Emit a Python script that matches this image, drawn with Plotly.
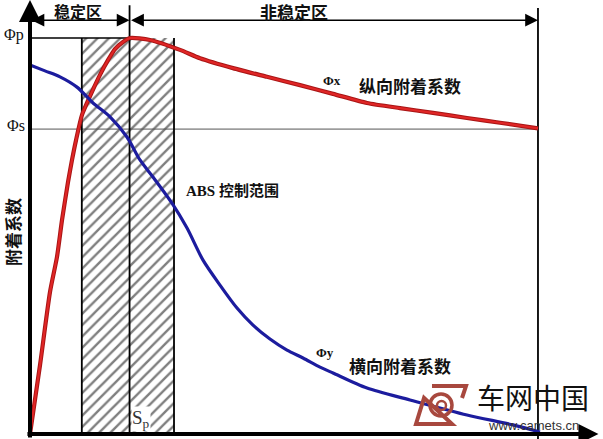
import plotly.graph_objects as go

# ---------------- data (slip in %, adhesion coefficient normalised to phi_p = 1) -------------
slip_red = [0, 1.97, 3.94, 5.31, 6.30, 7.48, 8.27, 9.06, 10.24, 12.20, 13.78, 15.35, 16.73,
            18.31, 19.69, 23.62, 29.53, 33.46, 39.96, 46.65, 53.15, 59.65, 66.34, 72.83,
            79.33, 86.02, 92.52, 100]
mu_red = [0, 0.174, 0.359, 0.447, 0.540, 0.636, 0.692, 0.742, 0.806, 0.864, 0.907, 0.944, 0.972,
          0.990, 1.0, 0.995, 0.970, 0.949, 0.924, 0.902, 0.881, 0.859, 0.836, 0.823,
          0.811, 0.798, 0.786, 0.772]

slip_blue = [0, 2.95, 5.91, 9.25, 12.40, 15.75, 19.09, 21.65, 24.21, 27.95, 30.91, 34.06,
             37.40, 40.75, 43.90, 47.24, 50.59, 53.74, 57.09, 59.65, 66.34, 74.80, 86.02,
             95.08, 100.4]
mu_blue = [0.932, 0.917, 0.902, 0.876, 0.836, 0.801, 0.750, 0.692, 0.649, 0.583, 0.520, 0.439,
           0.376, 0.318, 0.275, 0.240, 0.212, 0.192, 0.169, 0.154, 0.116, 0.086, 0.048,
           0.023, 0.005]

phi_p = 1.0
phi_s = 0.77
s_band_left = 10.2
s_p = 19.6
s_band_right = 28.35
s_end = 100

labels = {
    "stable": "稳定区",
    "unstable": "非稳定区",
    "long": "纵向附着系数",
    "lat": "横向附着系数",
    "abs": "ABS 控制范围",
    "ytitle": "附着系数",
}

X0, X1 = -5.906, 112.8
Y0, Y1 = -0.0126, 1.096
W, H = 603, 439

CJK = "Noto Sans CJK SC"
SERIF = "Liberation Serif"

fig = go.Figure()

# hatched ABS band
fig.add_trace(go.Scatter(
    x=[s_band_left, s_band_right, s_band_right, s_band_left, s_band_left],
    y=[0, 0, phi_p, phi_p, 0],
    mode="lines", fill="toself", line=dict(width=0, color="black"),
    fillcolor="white",
    fillpattern=dict(shape="/", fgcolor="#000000", bgcolor="white", size=8, solidity=0.3),
    hoverinfo="skip", showlegend=False))

def seg(xs, ys, color="black", width=1.5):
    fig.add_trace(go.Scatter(x=xs, y=ys, mode="lines", line=dict(color=color, width=width),
                             hoverinfo="skip", showlegend=False))

# reference lines
seg([0, s_end], [phi_s, phi_s], color="#555555", width=1)
seg([0, s_p], [phi_p, phi_p], width=1.5)
seg([s_band_left, s_band_left], [0, phi_p], width=1.8)
seg([s_band_right, s_band_right], [0, phi_p], width=1.8)
seg([s_p, s_p], [0, 1.083], width=1.8)
seg([s_end, s_end], [Y0, 1.076], width=1.8)

# curves
fig.add_trace(go.Scatter(x=slip_red, y=mu_red, mode="lines", line=dict(color="#a81515", width=4.2, shape="spline", smoothing=0.6),
                         hoverinfo="skip", showlegend=False))
fig.add_trace(go.Scatter(x=slip_red, y=mu_red, mode="lines", line=dict(color="#e02626", width=2.2, shape="spline", smoothing=0.6),
                         hoverinfo="skip", showlegend=False))
fig.add_trace(go.Scatter(x=slip_blue, y=mu_blue, mode="lines", line=dict(color="#1c1c9e", width=3.2, shape="spline", smoothing=0.8),
                         hoverinfo="skip", showlegend=False))

ann = []

def arrow(x, y, ax, ay, width, size=1.0, side="end", head=2):
    ann.append(dict(x=x, y=y, ax=ax, ay=ay, xref="x", yref="y", axref="x", ayref="y",
                    text="", showarrow=True, arrowhead=head, arrowsize=size, arrowwidth=width,
                    arrowcolor="black", arrowside=side, standoff=0, startstandoff=0))

# axes with arrows
arrow(0, 1.096, 0, Y0, 4, size=1.1)
arrow(111.9, 0, -0.8, 0, 4, size=1.0)
# dimension arrows
arrow(s_p, 1.045, 0, 1.045, 1.6, size=1.6, side="end+start")
arrow(s_end, 1.045, s_p, 1.045, 1.6, size=1.6, side="end+start")

def txt(x, y, t, size, family=CJK, color="#111111", weight="bold", angle=0, bg=None, xref="x", yref="y"):
    d = dict(x=x, y=y, xref=xref, yref=yref, text=t, showarrow=False, textangle=angle,
             font=dict(family=family, size=size, color=color, weight=weight),
             xanchor="center", yanchor="middle", borderpad=0)
    if bg:
        d["bgcolor"] = bg
    ann.append(d)

txt(9.45, 1.068, labels["stable"], 16)
txt(51.97, 1.068, labels["unstable"], 17)
txt(-3.15, 1.008, "Φp", 16, family=SERIF, weight="normal")
txt(-2.76, 0.778, "Φs", 16, family=SERIF, weight="normal")
txt(59.45, 0.893, "Φx", 13, family=SERIF)
txt(74.8, 0.881, labels["long"], 17)
txt(39.8, 0.616, labels["abs"], 15, family=SERIF + ", " + CJK)
txt(58.1, 0.207, "Φy", 13, family=SERIF)
txt(72.9, 0.174, labels["lat"], 17)
txt(-3.54, 0.510, labels["ytitle"], 17, angle=-90)
txt(21.85, 0.038, "S<sub>p</sub>", 19, family=SERIF, weight="normal", color="#333333", bg="white")

# watermark
txt(533 / W, 1 - 397 / H, "车网中国", 28, weight="normal", color="#111111", xref="paper", yref="paper")
txt(533 / W, 1 - 425 / H, "www.camets.cn", 13, family="Liberation Sans", weight="normal",
    color="#333333", xref="paper", yref="paper")

def P(px, py):
    return f"{px / W:.4f},{1 - py / H:.4f}"

logo_frame = ("M " + P(432, 386) + " L " + P(466, 386) + " L " + P(462, 398) +
              " M " + P(452, 424) + " L " + P(416, 424) + " L " + P(424, 398) + " Z")
shapes = [
    dict(type="path", xref="paper", yref="paper", path=logo_frame,
         line=dict(color="#a8483e", width=4), fillcolor="rgba(0,0,0,0)"),
    dict(type="circle", xref="paper", yref="paper",
         x0=430 / W, x1=452 / W, y0=1 - 416 / H, y1=1 - 394 / H,
         line=dict(color="#a8483e", width=3.5)),
    dict(type="circle", xref="paper", yref="paper",
         x0=437 / W, x1=446 / W, y0=1 - 410 / H, y1=1 - 401 / H,
         line=dict(color="#a8483e", width=2.5)),
]

fig.update_layout(
    width=W, height=H, margin=dict(l=0, r=0, t=0, b=0, pad=0),
    plot_bgcolor="white", paper_bgcolor="white",
    xaxis=dict(range=[X0, X1], visible=False, fixedrange=True),
    yaxis=dict(range=[Y0, Y1], visible=False, fixedrange=True),
    annotations=ann, shapes=shapes, showlegend=False,
)

fig.write_html("out.html", config={"displayModeBar": False},
               post_script="document.body.style.margin='0';document.body.style.padding='0';")
